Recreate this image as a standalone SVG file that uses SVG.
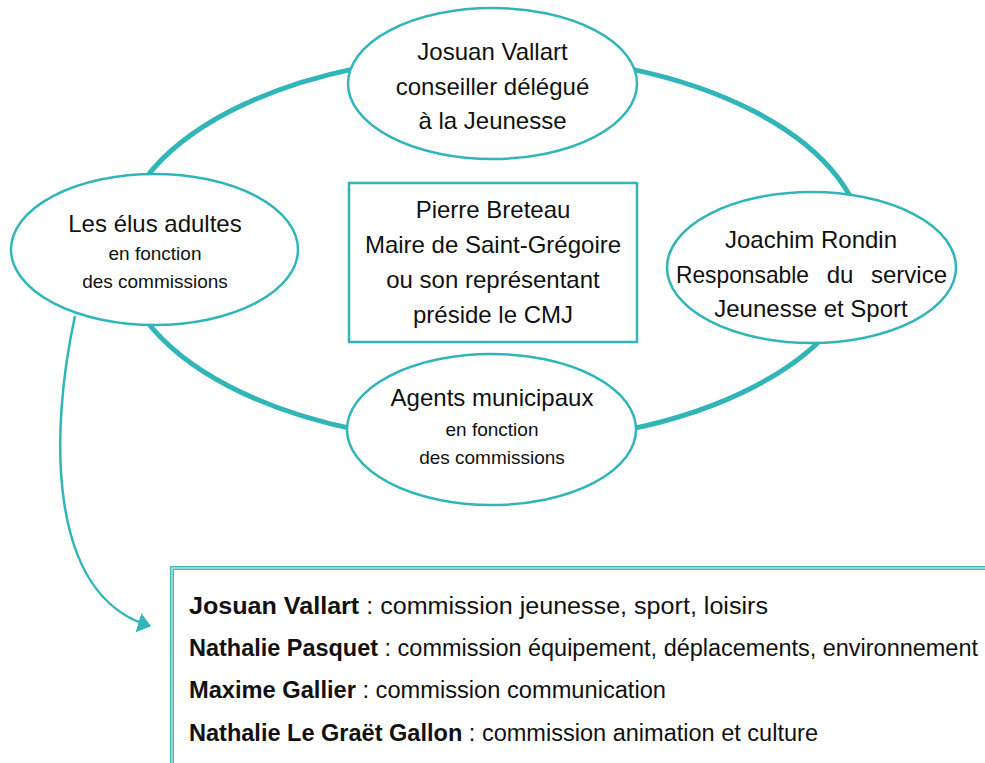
<svg xmlns="http://www.w3.org/2000/svg" width="985" height="763" viewBox="0 0 985 763">
<style>
  .ring { fill: none; stroke: #31b5b9; stroke-width: 5; }
  .node { fill: #ffffff; stroke: #31b5b9; stroke-width: 2.5; }
  .conn { fill: none; stroke: #31b5b9; stroke-width: 2.5; }
  text { font-family: "Liberation Sans", Arial, sans-serif; fill: #111111; }
  .t24 { font-size: 24px; text-anchor: middle; }
  .t19 { font-size: 19px; text-anchor: middle; }
  .list { font-size: 23px; }
  .b { font-weight: bold; }
</style>
<defs>
  <marker id="arrow" viewBox="0 0 13 20" refX="12" refY="10" markerWidth="13" markerHeight="20" markerUnits="userSpaceOnUse" orient="auto">
    <path d="M0,0 L13,10 L0,20 Z" fill="#31b5b9"/>
  </marker>
</defs>
<rect width="985" height="763" fill="#ffffff"/>

<g id="connectors">
  <ellipse class="ring" cx="492" cy="249" rx="372" ry="194"/>
  <path class="conn" d="M75,316 C50,430 46,596 150,626" marker-end="url(#arrow)"/>
</g>

<g id="node-josuan">
  <ellipse class="node" cx="492.5" cy="83.5" rx="144.5" ry="75.5"/>
  <text class="t24" x="492.5" y="60">Josuan Vallart</text>
  <text class="t24" x="492.5" y="95">conseiller délégué</text>
  <text class="t24" x="492.5" y="129">à la Jeunesse</text>
</g>

<g id="node-elus">
  <ellipse class="node" cx="154.5" cy="249.5" rx="143.5" ry="75.5"/>
  <text class="t24" x="155" y="232">Les élus adultes</text>
  <text class="t19" x="155" y="260">en fonction</text>
  <text class="t19" x="155" y="288">des commissions</text>
</g>

<g id="node-joachim">
  <ellipse class="node" cx="811.5" cy="267.5" rx="144.5" ry="75.5"/>
  <text class="t24" x="811" y="248">Joachim Rondin</text>
  <text x="676" y="283" font-size="24" textLength="133" lengthAdjust="spacingAndGlyphs">Responsable</text>
  <text x="840" y="283" font-size="24" text-anchor="middle">du</text>
  <text x="947" y="283" font-size="24" text-anchor="end">service</text>
  <text class="t24" x="811" y="317">Jeunesse et Sport</text>
</g>

<g id="node-maire">
  <rect class="node" x="349" y="183" width="288" height="159"/>
  <text class="t24" x="493" y="218">Pierre Breteau</text>
  <text class="t24" x="493" y="253">Maire de Saint-Grégoire</text>
  <text class="t24" x="493" y="288">ou son représentant</text>
  <text class="t24" x="493" y="323">préside le CMJ</text>
</g>

<g id="node-agents">
  <ellipse class="node" cx="491.5" cy="429.5" rx="144.5" ry="75.5"/>
  <text class="t24" x="492" y="406">Agents municipaux</text>
  <text class="t19" x="492" y="436">en fonction</text>
  <text class="t19" x="492" y="464">des commissions</text>
</g>

<g id="node-commissions">
  <rect x="172" y="568" width="830" height="210" fill="#ffffff" stroke="#3dbcb9" stroke-width="4"/>
  <rect x="172" y="568" width="830" height="210" fill="none" stroke="#a6e2df" stroke-width="1.5"/>
  <text class="list" x="189" y="614" textLength="579" lengthAdjust="spacingAndGlyphs"><tspan class="b">Josuan Vallart</tspan> : commission jeunesse, sport, loisirs</text>
  <text class="list" x="189" y="656" textLength="789" lengthAdjust="spacingAndGlyphs"><tspan class="b">Nathalie Pasquet</tspan> : commission équipement, déplacements, environnement</text>
  <text class="list" x="189" y="698" textLength="477" lengthAdjust="spacingAndGlyphs"><tspan class="b">Maxime Gallier</tspan> : commission communication</text>
  <text class="list" x="189" y="741" textLength="629" lengthAdjust="spacingAndGlyphs"><tspan class="b">Nathalie Le Graët Gallon</tspan> : commission animation et culture</text>
</g>
</svg>
